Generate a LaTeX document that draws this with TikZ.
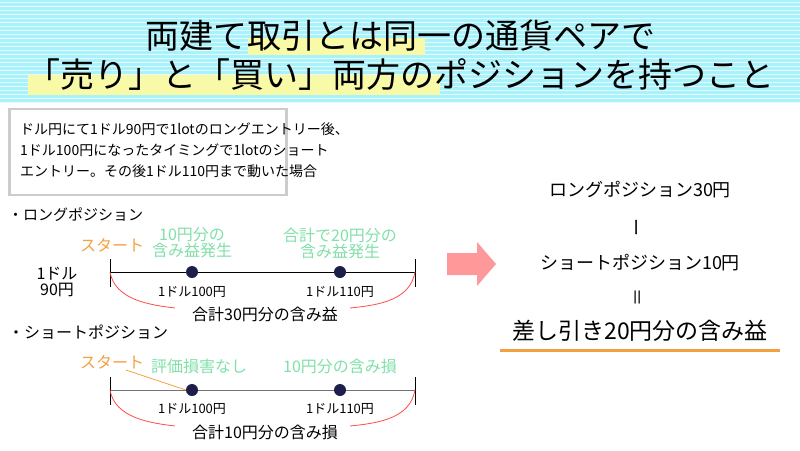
\documentclass[tikz,border=0pt]{standalone}
\usepackage{fontspec}
\setmainfont{Noto Sans CJK JP}
\definecolor{sky}{HTML}{A8F2FB}
\definecolor{hl}{HTML}{F8FAA8}
\definecolor{gr}{HTML}{80E0A8}
\definecolor{orn}{HTML}{F4A040}
\definecolor{navy}{HTML}{1E1E4A}
\tikzset{x=1pt,y=-1pt,
 t/.style={font=\fontsize{#1}{#1}\selectfont,inner sep=0pt,align=center},
 dot/.style={circle,fill=navy,inner sep=0pt,minimum size=12pt},
 tick/.style={draw=black,line width=1pt},
 arc/.style={draw=red!70,line width=0.8pt}}
\begin{document}
\begin{tikzpicture}
\useasboundingbox (0,0) rectangle (800,450);
\fill[sky] (0,0) rectangle (800,103);
\foreach \y in {2,6,...,102} \draw[white!70!sky,line width=0.6pt] (0,\y) -- (800,\y);
\fill[hl] (248,38) rectangle (425,55);
\fill[hl] (28,75) rectangle (440,95);
\node[t=34] (t1) at (400,36) {両建て取引とは同一の通貨ペアで};
\node[t=34] (t2) at (400,75) {「売り」と「買い」両方のポジションを持つこと};
\node[draw=gray!40,line width=2.5pt,fill=white,minimum width=277pt,minimum height=86pt] (box) at (148,152) {};
\node[t=14,align=left,anchor=north west] (bt) at (20,123) {ドル円にて1ドル90円で1lotのロングエントリー後、\\[7pt]1ドル100円になったタイミングで1lotのショート\\[7pt]エントリー。その後1ドル110円まで動いた場合};
\node[t=15,anchor=west] (lh) at (8,215) {・ロングポジション};
\coordinate (la) at (110,272); \coordinate (lb) at (415,272);
\draw[line width=1pt] (la) -- (lb);
\draw[tick] (110,259) -- (110,287); \draw[tick] (415,259) -- (415,287);
\node[dot] (l1) at (192,272) {}; \node[dot] (l2) at (340,272) {};
\draw[arc] (la) .. controls (115,300) and (150,305) .. (175,308);
\draw[arc] (lb) .. controls (410,300) and (380,305) .. (350,308);
\node[t=13] (l1t) at (192,292) {1ドル100円};
\node[t=13] (l2t) at (340,292) {1ドル110円};
\node[t=16] (lsum) at (265,314) {合計30円分の含み益};
\node[t=16,text=gr] (g1) at (192,243) {10円分の\\含み益発生};
\node[t=16,text=gr] (g2) at (340,243) {合計で20円分の\\含み益発生};
\node[t=16,text=orn,anchor=west] (s1) at (80,245) {スタート};
\node[t=16] (p90) at (57,282) {1ドル\\90円};
\node[t=16,anchor=west] (sh) at (8,332) {・ショートポジション};
\coordinate (sa) at (110,390); \coordinate (sb) at (415,390);
\draw[line width=1pt,gray!90!black] (sa) -- (sb);
\draw[tick] (110,377) -- (110,405); \draw[tick] (415,377) -- (415,405);
\node[dot] (s1d) at (192,390) {}; \node[dot] (s2d) at (340,390) {};
\draw[arc] (sa) .. controls (115,418) and (150,423) .. (175,426);
\draw[arc] (sb) .. controls (410,418) and (380,423) .. (350,426);
\node[t=13] (s1t) at (192,409) {1ドル100円};
\node[t=13] (s2t) at (340,409) {1ドル110円};
\node[t=16] (ssum) at (265,432) {合計10円分の含み損};
\node[t=16,text=gr] (g3) at (199,366) {評価損害なし};
\node[t=16,text=gr] (g4) at (340,366) {10円分の含み損};
\node[t=16,text=orn,anchor=west] (s2) at (80,362) {スタート};
\draw[orn,line width=0.8pt] (126,370) -- (s1d.west);
\fill[red!40] (447,253) -- (477,253) -- (477,242) -- (496,264) -- (477,286) -- (477,275) -- (447,275) -- cycle;
\node[t=18] (r1) at (640,190) {ロングポジション30円};
\node[t=18,rotate=90] (r2) at (640,227) {ー};
\node[t=18] (r3) at (640,263) {ショートポジション10円};
\node[t=18,rotate=90] (r4) at (640,297) {＝};
\node[t=23] (r5) at (640,331) {差し引き20円分の含み益};
\draw[orn,line width=3pt] (500,350) -- (780,350);
\end{tikzpicture}
\end{document}
